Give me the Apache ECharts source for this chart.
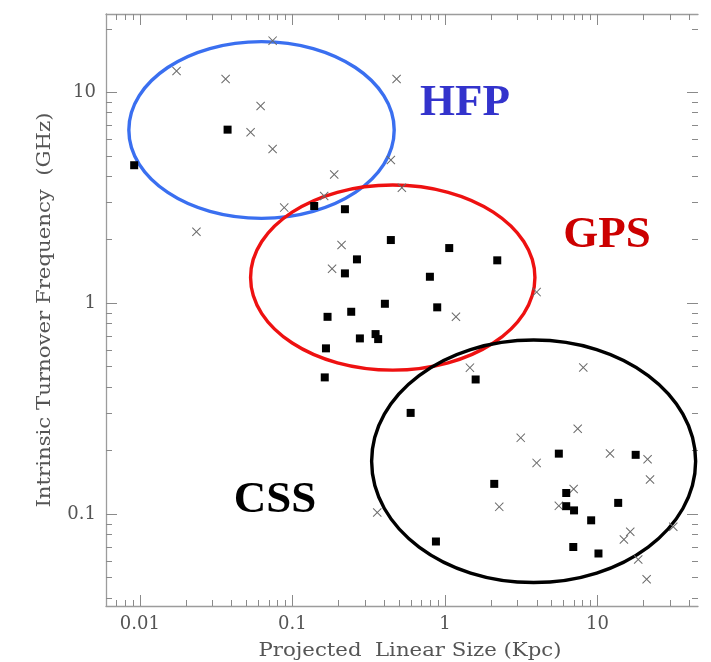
<!DOCTYPE html>
<html><head><meta charset="utf-8">
<script src="https://cdn.jsdelivr.net/npm/echarts@6/dist/echarts.min.js"></script>
<style>html,body{margin:0;padding:0;background:#fff}#c{width:711px;height:662px}</style>
</head><body><div id="c"></div>
<script>
// Crosses (x) : projected linear size (kpc), turnover frequency (GHz)
const crossX = [0.0742, 0.0174, 0.0365, 0.482, 0.0619, 0.0532, 0.0742, 0.442, 0.188, 0.522,
  0.1616, 0.0884, 0.0235, 0.210, 0.182, 1.181, 3.99, 1.458, 8.07, 7.42,
  3.14, 3.99, 12.08, 21.3, 22.1, 6.98, 5.58, 2.27, 0.360, 16.4,
  14.9, 18.5, 21.0, 31.4];
const crossY = [17.57, 12.62, 11.56, 11.56, 8.61, 6.46, 5.38, 4.77, 4.08, 3.53,
  3.22, 2.84, 2.18, 1.887, 1.457, 0.862, 1.129, 0.495, 0.496, 0.254,
  0.230, 0.175, 0.194, 0.182, 0.146, 0.1317, 0.1095, 0.1083, 0.1019, 0.0826,
  0.0759, 0.0610, 0.0491, 0.0871];
// Filled squares
const squareX = [0.0376, 0.00918, 0.139, 0.221, 0.442, 1.067, 2.203, 0.265, 0.221, 0.797,
  0.404, 0.890, 0.243, 0.170, 0.351, 0.365, 0.277, 0.166, 0.163, 1.590,
  0.596, 5.58, 17.8, 2.105, 6.24, 6.24, 7.02, 13.67, 9.09, 0.873,
  6.94, 10.15];
const squareY = [6.65, 4.51, 2.89, 2.79, 1.993, 1.826, 1.597, 1.614, 1.385, 1.335,
  0.994, 0.956, 0.911, 0.862, 0.714, 0.676, 0.681, 0.611, 0.445, 0.435,
  0.302, 0.1936, 0.1911, 0.1392, 0.126, 0.1091, 0.1042, 0.1131, 0.0935, 0.0742,
  0.0699, 0.0651];
// Class regions (ellipse bounding extents in data units)
const regionNames = ['HFP', 'GPS', 'CSS'];
const regionXMin = [0.00847, 0.0532, 0.3307];
const regionXMax = [0.465, 3.89, 44.0];
const regionYMin = [2.526, 0.482, 0.0474];
const regionYMax = [17.38, 3.634, 0.669];
// Axis ticks
const xRange = [0.006, 45.6];
const yRange = [0.0367, 23.5];
const xMajorTicks = [0.01, 0.1, 1, 10];
const xMinorTicks = [0.007, 0.008, 0.009, 0.02, 0.03, 0.04, 0.05, 0.06, 0.07, 0.08, 0.09,
  0.2, 0.3, 0.4, 0.5, 0.6, 0.7, 0.8, 0.9, 2, 3, 4, 5, 6, 7, 8, 9, 20, 30, 40];
const yMajorTicks = [0.1, 1, 10];
const yMinorTicks = [0.04, 0.05, 0.06, 0.07, 0.08, 0.09, 0.2, 0.3, 0.4, 0.5, 0.6, 0.7, 0.8, 0.9,
  2, 3, 4, 5, 6, 7, 8, 9, 20];
const xTitle = 'Projected  Linear Size (Kpc)';
const yTitle = 'Intrinsic Turnover Frequency  (GHz)';

const FONT = '"DejaVu Serif", serif';
const LINE = '#9c9c9c';
const TICK = '#8a8a8a';
const TXT = '#555';

function mkAxis(dim, pos, major, showLine, showLabel) {
  const range = dim === 'x' ? xRange : yRange;
  const majors = dim === 'x' ? xMajorTicks : yMajorTicks;
  const minors = dim === 'x' ? xMinorTicks : yMinorTicks;
  return {
    type: 'log', logBase: 10, position: pos, min: range[0], max: range[1],
    axisLine: { show: showLine, onZero: false, lineStyle: { color: LINE, width: 1.3 } },
    axisTick: { show: true, inside: true, length: major ? 11 : 6,
      customValues: major ? majors : minors, lineStyle: { color: TICK, width: 1 } },
    axisLabel: { show: showLabel, customValues: majors, margin: dim === 'x' ? 9 : 10,
      color: TXT, fontFamily: FONT, fontSize: 18, formatter: v => String(v) },
    splitLine: { show: false }, minorTick: { show: false }, minorSplitLine: { show: false }
  };
}

const chart = echarts.init(document.getElementById('c'), null, { renderer: 'canvas' });
const regionColors = ['#3a6ff0', '#ee1111', '#000000'];
const option = {
  backgroundColor: '#ffffff',
  animation: false,
  grid: { left: 106, right: 13, top: 14, bottom: 56 },
  xAxis: [
    mkAxis('x', 'bottom', true, true, true),
    mkAxis('x', 'bottom', false, false, false),
    mkAxis('x', 'top', true, true, false),
    mkAxis('x', 'top', false, false, false)
  ],
  yAxis: [
    mkAxis('y', 'left', true, true, true),
    mkAxis('y', 'left', false, false, false),
    mkAxis('y', 'right', true, false, false),
    mkAxis('y', 'right', false, false, false)
  ],
  series: [
    {
      type: 'custom', name: 'regions', clip: true,
      data: regionNames.map((n, i) => [regionXMin[i], regionXMax[i], regionYMin[i], regionYMax[i]]),
      encode: { x: [0, 1], y: [2, 3] },
      renderItem: function (params, api) {
        const p0 = api.coord([api.value(0), api.value(2)]);
        const p1 = api.coord([api.value(1), api.value(3)]);
        return {
          type: 'ellipse',
          shape: { cx: (p0[0] + p1[0]) / 2, cy: (p0[1] + p1[1]) / 2,
            rx: Math.abs(p1[0] - p0[0]) / 2, ry: Math.abs(p1[1] - p0[1]) / 2 },
          style: { fill: 'none', stroke: regionColors[params.dataIndex], lineWidth: 3.4 }
        };
      },
      z: 1
    },
    {
      type: 'scatter', name: 'cross',
      data: crossX.map((x, i) => [x, crossY[i]]),
      symbol: 'path://M0,0.8L0.8,0L5,4.2L9.2,0L10,0.8L5.8,5L10,9.2L9.2,10L5,5.8L0.8,10L0,9.2L4.2,5Z',
      symbolSize: 9,
      itemStyle: { color: '#6c6c6c', opacity: 1 },
      z: 2
    },
    {
      type: 'scatter', name: 'square',
      data: squareX.map((x, i) => [x, squareY[i]]),
      symbol: 'rect', symbolSize: 8,
      itemStyle: { color: '#000000', opacity: 1 },
      z: 3
    }
  ],
  graphic: [
    { type: 'text', x: 410, y: 651, scaleX: 1.18,
      style: { text: xTitle, fill: TXT, font: '18px "DejaVu Serif"', align: 'center', verticalAlign: 'middle' } },
    { type: 'text', x: 45, y: 310, rotation: Math.PI / 2, scaleX: 1.18,
      style: { text: yTitle, fill: TXT, font: '18px "DejaVu Serif"', align: 'center', verticalAlign: 'middle' } },
    { type: 'text', x: 465, y: 103, style: { text: 'HFP', fill: '#3333cc', font: 'bold 45px "Liberation Serif"', align: 'center', verticalAlign: 'middle' } },
    { type: 'text', x: 607, y: 235, style: { text: 'GPS', fill: '#cc0000', font: 'bold 45px "Liberation Serif"', align: 'center', verticalAlign: 'middle' } },
    { type: 'text', x: 275, y: 500, style: { text: 'CSS', fill: '#000000', font: 'bold 45px "Liberation Serif"', align: 'center', verticalAlign: 'middle' } }
  ]
};
chart.setOption(option);
</script>
</body></html>
